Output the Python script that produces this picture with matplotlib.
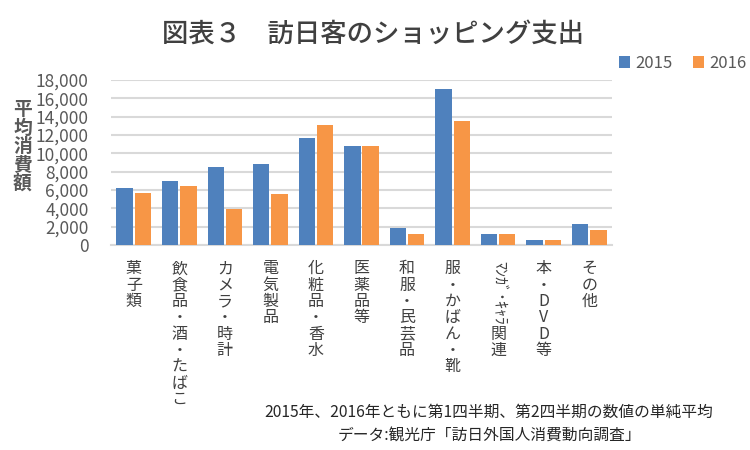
import numpy as np
import matplotlib
matplotlib.use("Agg")
import matplotlib.pyplot as plt
from matplotlib.ticker import FuncFormatter
from matplotlib.transforms import blended_transform_factory

plt.rcParams['font.family'] = ['Noto Sans CJK JP', 'DejaVu Sans']

categories = ['菓子類', '飲食品・酒・たばこ', 'カメラ・時計', '電気製品', '化粧品・香水',
              '医薬品等', '和服・民芸品', '服・かばん・靴', 'ﾏﾝｶﾞ･ｷｬﾗ関連', '本・DVD等', 'その他']
spend_2015 = [6200, 7000, 8500, 8800, 11700, 10800, 1850, 17000, 1200, 550, 2300]
spend_2016 = [5700, 6400, 3950, 5600, 13100, 10800, 1200, 13500, 1200, 550, 1650]
series_names = ['2015', '2016']

blue = '#4F81BD'
orange = '#F79646'
grey = '#595959'

fig = plt.figure(figsize=(7.5, 4.5), dpi=100)
ax = fig.add_axes([0.148, 0.4556, 0.668, 0.367])

x = np.arange(len(categories))
w = 0.36
ax.bar(x - w / 2 - 0.02, spend_2015, width=w, color=blue, label=series_names[0], zorder=3)
ax.bar(x + w / 2 + 0.02, spend_2016, width=w, color=orange, label=series_names[1], zorder=3)

ax.set_xlim(-0.5, len(categories) - 0.5)
ax.set_ylim(0, 18000)
ax.set_yticks(np.arange(0, 18001, 2000))
ax.yaxis.set_major_formatter(FuncFormatter(lambda v, p: f'{int(v):,}'))
ax.grid(axis='y', color='#D9D9D9', linewidth=1.5, zorder=0)
for s in ['top', 'right', 'left']:
    ax.spines[s].set_visible(False)
ax.spines['bottom'].set_color('#D9D9D9')
ax.spines['bottom'].set_linewidth(1.5)
ax.tick_params(axis='y', length=0, labelsize=12.5, labelcolor=grey, pad=16)
ax.tick_params(axis='x', length=0, pad=11)

# vertical (stacked) category labels; the half-width one is drawn by hand
labels = []
for c in categories:
    if c.startswith('ﾏﾝｶﾞ'):
        labels.append('')
    else:
        labels.append('\n'.join(c))
ax.set_xticks(x)
ax.set_xticklabels(labels, fontsize=11.5, color='#404040', linespacing=0.95, va='top')

trans = blended_transform_factory(ax.transData, ax.transAxes)
i = categories.index('ﾏﾝｶﾞ･ｷｬﾗ関連')
ax.text(i, -0.1, 'ﾏﾝｶﾞ･ｷｬﾗ', transform=trans, rotation=-90, fontsize=11.5,
        color='#404040', ha='center', va='top')
ax.text(i, -0.49, '関\n連', transform=trans, fontsize=11.5, color='#404040',
        ha='center', va='top', linespacing=0.95)

fig.text(0.03, 0.675, '\n'.join('平均消費額'), fontsize=13.5, fontweight='bold',
         color=grey, ha='center', va='center', linespacing=0.95)

fig.text(0.497, 0.925, '図表３　訪日客のショッピング支出', fontsize=19, color='#404040',
         ha='center', va='center', fontweight='medium')

fig.legend(loc='center', bbox_to_anchor=(0.91, 0.86), ncol=2, frameon=False,
           fontsize=12, handlelength=0.7, handleheight=0.7, handletextpad=0.3,
           columnspacing=1.2, labelcolor=grey)

fig.text(0.353, 0.083, '2015年、2016年ともに第1四半期、第2四半期の数値の単純平均',
         fontsize=11.3, color='#262626', ha='left', va='center')
fig.text(0.652, 0.03, 'データ:観光庁「訪日外国人消費動向調査」',
         fontsize=11.3, color='#262626', ha='center', va='center')

fig.savefig('out.png', dpi=100)
